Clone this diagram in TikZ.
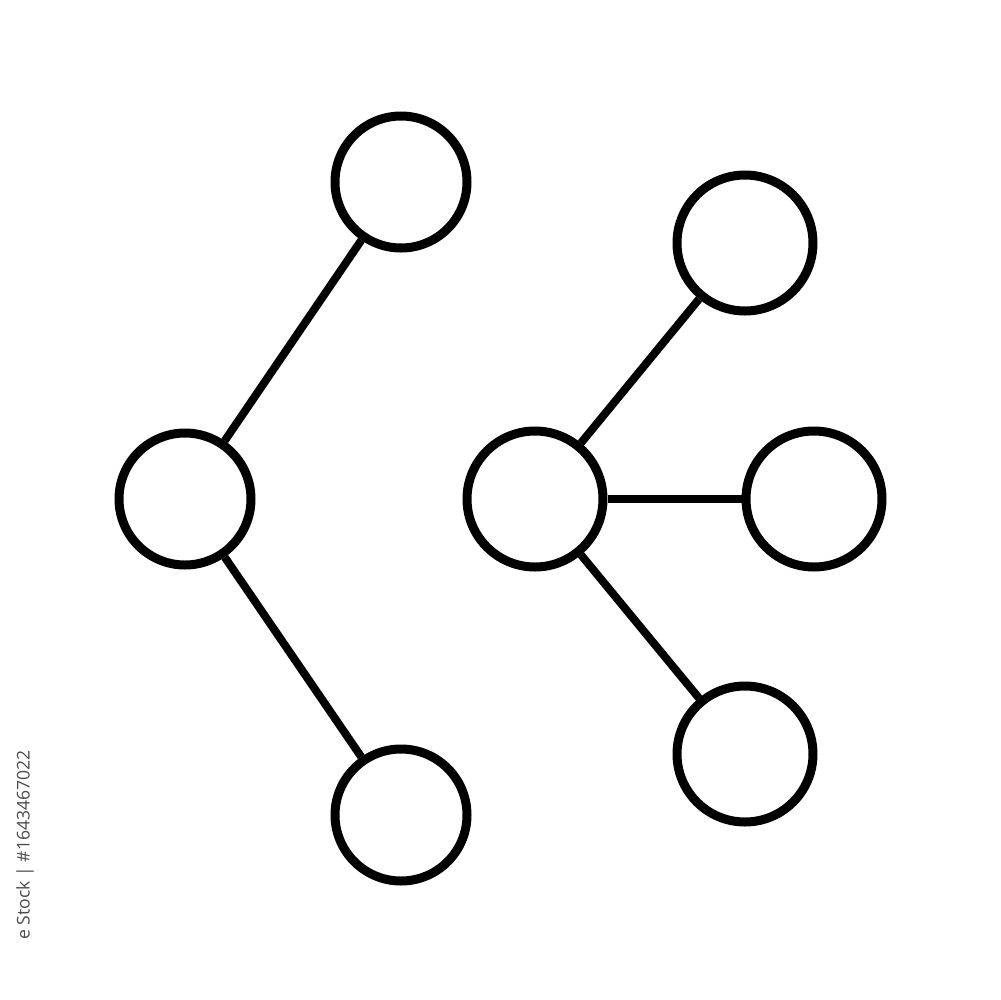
\documentclass[tikz,border=0pt]{standalone}
\usepackage{fontspec}
\setsansfont{Open Sans}
\begin{document}
\begin{tikzpicture}[x=0.1mm,y=-0.1mm,
  dot/.style={draw=black,circle,line width=0.9mm,minimum size=13.2mm,inner sep=0pt,fill=white},
  bigdot/.style={dot,minimum size=13.6mm},
  link/.style={draw=black,line width=0.8mm}]
\fill[white] (0,0) rectangle (1000,1000);
\useasboundingbox (0,0) rectangle (1000,1000);
\node[dot] (lt) at (401,182) {};
\node[dot] (lc) at (185,499) {};
\node[dot] (lb) at (401,815) {};
\node[bigdot] (rc) at (535,499) {};
\node[bigdot] (rt) at (745,243) {};
\node[bigdot] (rr) at (814,499) {};
\node[bigdot] (rb) at (745,754) {};
\draw[link] (lc) -- (lt);
\draw[link] (lc) -- (lb);
\draw[link] (rc) -- (rt);
\draw[link] (rc) -- (rr);
\draw[link] (rc) -- (rb);
\node[rotate=90,text=black!70,font=\sffamily\fontsize{5pt}{6pt}\selectfont,inner sep=0pt] (wm) at (25,845) {e Stock | \#1643467022};
\end{tikzpicture}
\end{document}
